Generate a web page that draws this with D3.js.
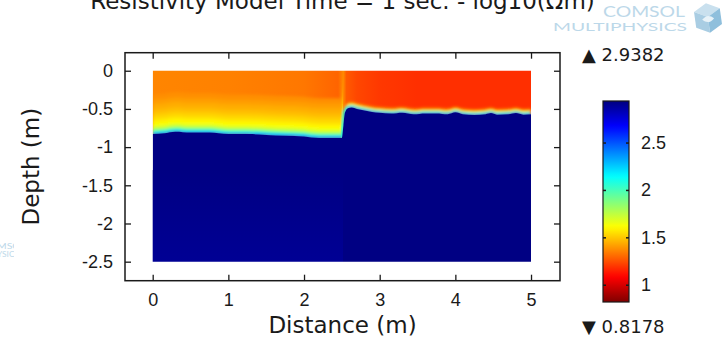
<!DOCTYPE html>
<html>
<head>
<meta charset="utf-8">
<script src="https://cdn.jsdelivr.net/npm/d3@7"></script>
<style>
	body { margin: 0; background: #fff; }
	svg { display: block; font-family: "DejaVu Sans", sans-serif; }
</style>
</head>
<body>
<svg id="chart" width="726" height="340"></svg>
<script>
// values
const xTicks = [0, 1, 2, 3, 4, 5];
const yTicks = [0, -0.5, -1, -1.5, -2, -2.5];
const colorTicks = [1, 1.5, 2, 2.5];
const valueMin = 0.8178;
const valueMax = 2.9382;

// top of the resistive lower layer (m)
const interfaceX     = [0, 0.15, 0.3, 0.5, 0.75, 1.0, 1.25, 1.5, 1.75, 2.0, 2.2, 2.4, 2.5, 2.52, 2.54, 2.58, 2.63, 2.7, 2.8, 2.9, 3.0, 3.15, 3.3, 3.45, 3.6, 3.75, 3.9, 4.0, 4.1, 4.25, 4.4, 4.47, 4.55, 4.7, 4.8, 4.9, 5.0];
const interfaceDepth = [-0.83, -0.82, -0.80, -0.81, -0.81, -0.83, -0.83, -0.84, -0.85, -0.86, -0.88, -0.88, -0.88, -0.72, -0.55, -0.49, -0.48, -0.50, -0.52, -0.54, -0.55, -0.56, -0.55, -0.57, -0.56, -0.56, -0.57, -0.545, -0.57, -0.58, -0.57, -0.555, -0.575, -0.57, -0.555, -0.575, -0.57];

// log10 resistivity at the surface
const surfaceX     = [0, 1.0, 2.0, 2.45, 2.52, 2.56, 2.7, 3.0, 3.5, 5.0];
const surfaceValue = [1.36, 1.35, 1.33, 1.29, 1.37, 1.27, 1.23, 1.20, 1.18, 1.18];

// values just above the interface, by height above it (m)
const leftBandHeight  = [0.52, 0.45, 0.39, 0.33, 0.28, 0.24, 0.20, 0.17, 0.14, 0.12, 0.10, 0.085, 0.07, 0.058, 0.046, 0.035, 0.025, 0.015];
const leftBandValue   = [1.38, 1.41, 1.44, 1.47, 1.50, 1.53, 1.56, 1.59, 1.62, 1.65, 1.69, 1.74, 1.80, 1.88, 1.97, 2.08, 2.22, 2.42];
const rightBandHeight = [0.075, 0.05, 0.035, 0.022, 0.01];
const rightBandValue  = [1.35, 1.60, 1.85, 2.15, 2.45];

const stepX = 2.515;
const lowerValue = 2.93;
const lowerLeftDepth = [-1.3, -2.5];
const lowerLeftValue = [2.93, 2.895];

const margin = { top: 52.7, left: 125 };
const W = 435, H = 228;

const svg = d3.select('#chart');
const defs = svg.append('defs');

// jet colour map, 0 = dark blue, 1 = dark red
const jet = t => {
	const c = v => Math.max(0, Math.min(1, v));
	return d3.rgb(255 * c(1.5 - Math.abs(4 * t - 3)), 255 * c(1.5 - Math.abs(4 * t - 2)), 255 * c(1.5 - Math.abs(4 * t - 1))).formatHex();
};
const color = d3.scaleSequential(t => jet(1 - t)).domain([valueMin, valueMax]);

const x = d3.scaleLinear().domain([-0.366, 5.383]).range([0, W]);
const y = d3.scaleLinear().domain([-2.749, 0.236]).range([H, 0]);

const iface = interfaceX.map((v, i) => ({ x: v, d: interfaceDepth[i] }));

// title
svg.append('text')
	.attr('x', margin.left + W / 2).attr('y', 9)
	.attr('text-anchor', 'middle')
	.attr('font-size', 23).attr('fill', '#1a1a1a')
	.text('Resistivity Model Time = 1 sec. - log10(Ωm)');

// watermark logos
const logoFill = '#bcd8e9';
const logo = svg.append('g').attr('fill', logoFill).attr('font-family', 'Lato, "DejaVu Sans", sans-serif');
logo.append('text').attr('x', 603).attr('y', 17).attr('font-size', 15)
	.attr('textLength', 82).attr('lengthAdjust', 'spacingAndGlyphs').text('COMSOL');
logo.append('text').attr('x', 553).attr('y', 31).attr('font-size', 12)
	.attr('textLength', 134).attr('lengthAdjust', 'spacingAndGlyphs').text('MULTIPHYSICS');
const cube = logo.append('g').attr('transform', 'translate(708,18) rotate(-8)');
cube.append('path').attr('d', 'M0,-15 L13,-8 L0,-1 L-13,-8 Z').attr('fill', '#c9e0ee');
cube.append('path').attr('d', 'M-13,-8 L0,-1 L0,15 L-13,8 Z').attr('fill', '#a9cde3');
cube.append('path').attr('d', 'M13,-8 L0,-1 L0,15 L13,8 Z').attr('fill', '#8fbfdc');
cube.append('path').attr('d', 'M-6,1 q6,-6 12,0 q-6,6 -12,0 Z').attr('fill', '#e8f2f8');

defs.append('clipPath').attr('id', 'leftLogo').append('rect').attr('x', 0).attr('y', 230).attr('width', 14).attr('height', 40);
const logo2 = svg.append('g').attr('fill', logoFill).attr('clip-path', 'url(#leftLogo)')
	.attr('font-family', 'Lato, "DejaVu Sans", sans-serif');
logo2.append('text').attr('x', 26).attr('y', 249).attr('font-size', 8).attr('text-anchor', 'end')
	.attr('textLength', 44).attr('lengthAdjust', 'spacingAndGlyphs').text('COMSOL');
logo2.append('text').attr('x', 19).attr('y', 257).attr('font-size', 7).attr('text-anchor', 'end')
	.attr('textLength', 58).attr('lengthAdjust', 'spacingAndGlyphs').text('MULTIPHYSICS');

const g = svg.append('g').attr('transform', `translate(${margin.left},${margin.top})`);

// ---- field ----
defs.append('clipPath').attr('id', 'dataClip').append('rect')
	.attr('x', x(0)).attr('y', y(0)).attr('width', x(5) - x(0)).attr('height', y(-2.5) - y(0));
defs.append('clipPath').attr('id', 'leftClip').append('rect')
	.attr('x', x(0)).attr('y', y(0)).attr('width', x(stepX) - x(0)).attr('height', y(-2.5) - y(0));
defs.append('clipPath').attr('id', 'rightClip').append('rect')
	.attr('x', x(stepX)).attr('y', y(0)).attr('width', x(5) - x(stepX)).attr('height', y(-2.5) - y(0));

const blur = defs.append('filter').attr('id', 'soft').attr('x', -0.1).attr('y', -0.1).attr('width', 1.2).attr('height', 1.2);
blur.append('feGaussianBlur').attr('stdDeviation', 1.6);
const blurEdge = defs.append('filter').attr('id', 'softEdge').attr('x', -0.05).attr('y', -0.05).attr('width', 1.1).attr('height', 1.1);
blurEdge.append('feGaussianBlur').attr('stdDeviation', 0.6);

const surfGrad = defs.append('linearGradient').attr('id', 'surfGrad')
	.attr('gradientUnits', 'userSpaceOnUse')
	.attr('x1', x(0)).attr('x2', x(5)).attr('y1', 0).attr('y2', 0);
surfGrad.selectAll('stop').data(surfaceX).join('stop')
	.attr('offset', (d) => d / 5)
	.attr('stop-color', (d, i) => color(surfaceValue[i]));

const lowGrad = defs.append('linearGradient').attr('id', 'lowGrad')
	.attr('gradientUnits', 'userSpaceOnUse')
	.attr('x1', 0).attr('x2', 0).attr('y1', y(lowerLeftDepth[0])).attr('y2', y(lowerLeftDepth[1]));
lowGrad.selectAll('stop').data(lowerLeftDepth).join('stop')
	.attr('offset', (d, i) => i)
	.attr('stop-color', (d, i) => color(lowerLeftValue[i]));

const field = g.append('g').attr('clip-path', 'url(#dataClip)');

// upper layer
field.append('path')
	.datum(iface)
	.attr('fill', 'url(#surfGrad)')
	.attr('d', d3.area().curve(d3.curveMonotoneX).x(d => x(d.x)).y0(y(0.02)).y1(d => y(d.d)));

function bands(heights, values, clip) {
	const bg = field.append('g').attr('clip-path', clip).append('g').attr('filter', 'url(#soft)');
	heights.forEach((h, i) => {
		bg.append('path')
			.datum(iface)
			.attr('fill', color(values[i]))
			.attr('d', d3.area().curve(d3.curveMonotoneX)
				.x(d => x(d.x))
				.y0(d => y(Math.min(0, d.d + h)))
				.y1(d => y(d.d) + 1));
	});
	return bg;
}
bands(leftBandHeight, leftBandValue, 'url(#leftClip)');
bands(rightBandHeight, rightBandValue, 'url(#rightClip)');

// cyan rim along the step
field.append('path')
	.datum(iface.filter(d => d.x >= 2.48 && d.x <= 2.6))
	.attr('fill', 'none')
	.attr('stroke', color(2.1))
	.attr('stroke-width', 3)
	.attr('filter', 'url(#soft)')
	.attr('d', d3.line().curve(d3.curveMonotoneX).x(d => x(d.x)).y(d => y(d.d)));

// lower layer
const lower = field.append('g').attr('filter', 'url(#softEdge)');
lower.append('path')
	.datum(iface)
	.attr('fill', color(lowerValue))
	.attr('d', d3.area().curve(d3.curveMonotoneX).x(d => x(d.x)).y0(y(-2.6)).y1(d => y(d.d)));
lower.append('rect')
	.attr('x', x(0) - 2).attr('width', x(stepX) - x(0) + 2)
	.attr('y', y(lowerLeftDepth[0])).attr('height', y(-2.6) - y(lowerLeftDepth[0]))
	.attr('fill', 'url(#lowGrad)');

// ---- axes ----
const axisColor = '#1a1a1a';
const fmt = d => String(d);

const gx = g.append('g').attr('transform', `translate(0,${H})`)
	.call(d3.axisBottom(x).tickValues(xTicks).tickFormat(fmt).tickSize(-6).tickPadding(12.5));
const gxt = g.append('g')
	.call(d3.axisTop(x).tickValues(xTicks).tickFormat('').tickSize(-6));
const gy = g.append('g')
	.call(d3.axisLeft(y).tickValues(yTicks).tickFormat(fmt).tickSize(-6).tickPadding(12));
const gyr = g.append('g').attr('transform', `translate(${W},0)`)
	.call(d3.axisRight(y).tickValues(yTicks).tickFormat('').tickSize(-6));

[gx, gxt, gy, gyr].forEach(a => {
	a.select('.domain').remove();
	a.selectAll('line').attr('stroke', axisColor).attr('stroke-width', 1.3);
	a.selectAll('text').attr('font-size', 18).attr('fill', axisColor).attr('font-family', null);
});

g.append('rect').attr('width', W).attr('height', H)
	.attr('fill', 'none').attr('stroke', axisColor).attr('stroke-width', 1.5);

g.append('text')
	.attr('x', W / 2).attr('y', 333 - margin.top)
	.attr('text-anchor', 'middle').attr('font-size', 23).attr('fill', axisColor)
	.text('Distance (m)');

g.append('text')
	.attr('transform', `translate(${39 - margin.left},${H / 2}) rotate(-90)`)
	.attr('text-anchor', 'middle').attr('font-size', 23).attr('fill', axisColor)
	.text('Depth (m)');

// ---- colour bar ----
const cb = { x: 603, y: 101, w: 26, h: 201 };
const cScale = d3.scaleLinear().domain([valueMin, valueMax]).range([cb.h, 0]);

const cbGrad = defs.append('linearGradient').attr('id', 'cbGrad')
	.attr('x1', 0).attr('x2', 0).attr('y1', 1).attr('y2', 0);
cbGrad.selectAll('stop').data(d3.range(0, 1.0001, 0.02)).join('stop')
	.attr('offset', d => d)
	.attr('stop-color', d => color(valueMin + d * (valueMax - valueMin)));

const cbg = svg.append('g').attr('transform', `translate(${cb.x},${cb.y})`);
cbg.append('rect').attr('width', cb.w).attr('height', cb.h).attr('fill', 'url(#cbGrad)');

const cbr = cbg.append('g').attr('transform', `translate(${cb.w},0)`)
	.call(d3.axisRight(cScale).tickValues(colorTicks).tickFormat(fmt).tickSize(-3).tickPadding(12));
const cbl = cbg.append('g')
	.call(d3.axisLeft(cScale).tickValues(colorTicks).tickFormat('').tickSize(-3));
[cbr, cbl].forEach(a => {
	a.select('.domain').remove();
	a.selectAll('line').attr('stroke', axisColor).attr('stroke-width', 1.5);
	a.selectAll('text').attr('font-size', 18).attr('fill', axisColor).attr('font-family', null);
});
cbg.append('rect').attr('width', cb.w).attr('height', cb.h)
	.attr('fill', 'none').attr('stroke', axisColor).attr('stroke-width', 1.2);

svg.append('text').attr('x', 582).attr('y', 55).attr('dy', '0.35em')
	.attr('font-size', 18).attr('fill', axisColor)
	.text('▲ ' + valueMax.toFixed(4));
svg.append('text').attr('x', 582).attr('y', 327).attr('dy', '0.35em')
	.attr('font-size', 18).attr('fill', axisColor)
	.text('▼ ' + valueMin.toFixed(4));
</script>
</body>
</html>
